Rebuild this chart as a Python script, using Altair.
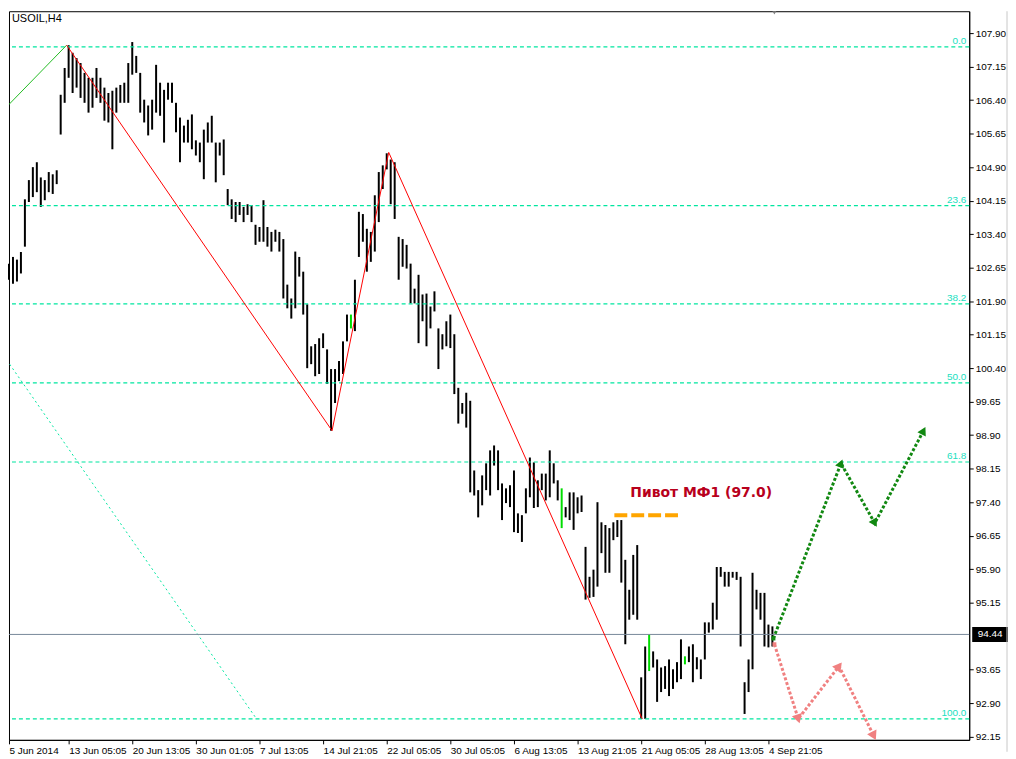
import math
import altair as alt
import pandas as pd

# ---------------- data ----------------
symbol_label = "USOIL,H4"

# H4 bars (every second bar), high / low prices, left to right
bar_high = [
    102.74, 102.89, 102.83, 103.00, 104.18, 104.61, 104.90, 105.01, 104.67, 104.61,
    104.79, 104.74, 104.83, 106.52, 107.12, 107.63, 107.46, 107.34, 107.23, 107.01,
    106.90, 106.90, 107.12, 106.90, 106.68, 106.56, 106.61, 106.68, 106.74, 106.79,
    107.23, 107.70, 107.39, 107.01, 106.41, 106.28, 106.41, 107.19, 106.79, 106.63,
    106.79, 106.79, 106.34, 106.01, 105.83, 105.96, 106.08, 105.50, 105.45, 105.74,
    105.90, 106.05, 105.45, 105.45, 105.52, 104.41, 104.18, 104.12, 104.12, 104.01,
    104.07, 104.05, 103.61, 103.56, 104.16, 103.56, 103.45, 103.50, 103.45, 103.29,
    102.27, 101.96, 103.01, 102.89, 102.56, 101.83, 100.89, 100.94, 101.07, 101.18,
    100.82, 100.38, 100.38, 100.56, 101.00, 101.60, 101.60, 102.38, 103.90, 103.85,
    103.52, 103.45, 104.27, 104.79, 104.94, 105.21, 105.07, 105.01, 103.34, 103.29,
    103.16, 102.74, 102.18, 102.49, 102.05, 102.07, 101.78, 102.12, 101.29, 101.16,
    101.45, 101.60, 101.16, 99.96, 99.62, 99.85, 99.67, 98.11, 97.67, 98.00,
    98.27, 98.56, 98.67, 98.56, 97.82, 97.71, 97.78, 98.11, 97.15, 97.11,
    97.71, 98.40, 98.29, 97.89, 98.04, 98.04, 98.56, 98.27, 97.89, 97.71,
    97.29, 97.62, 97.62, 97.51, 97.55, 96.40, 95.73, 95.89, 97.40, 96.95,
    96.89, 96.82, 96.95, 97.00, 97.00, 96.11, 95.44, 96.22, 96.44, 93.48,
    94.17, 94.44, 94.06, 93.88, 93.70, 93.73, 93.88, 93.66, 93.82, 94.33,
    93.95, 94.17, 94.22, 93.93, 93.88, 94.71, 94.71, 95.15, 95.95, 95.95,
    95.84, 95.84, 95.84, 95.84, 95.73, 93.37, 93.88, 95.82, 95.44, 95.37,
    95.37, 94.66, 94.62,
]
bar_low = [
    102.38, 102.29, 102.34, 102.52, 103.12, 104.12, 104.23, 104.34, 104.01, 104.16,
    104.34, 104.30, 104.52, 105.63, 106.34, 106.90, 106.56, 106.68, 106.45, 106.34,
    106.12, 106.23, 106.45, 106.34, 105.94, 105.90, 105.30, 106.12, 106.34, 106.34,
    106.34, 106.97, 107.01, 106.12, 105.90, 105.61, 105.74, 106.12, 106.05, 105.45,
    106.41, 106.34, 105.68, 105.01, 105.45, 105.45, 105.30, 105.16, 105.01, 104.63,
    105.45, 105.45, 104.56, 105.16, 104.72, 104.05, 103.74, 103.67, 103.83, 103.67,
    103.83, 103.67, 103.16, 103.23, 103.23, 103.12, 103.01, 103.23, 103.01, 101.96,
    101.74, 101.51, 101.74, 102.45, 101.60, 100.40, 100.49, 100.22, 100.27, 100.85,
    100.05, 99.00, 99.62, 100.11, 100.27, 101.00, 101.29, 101.23, 102.89, 103.23,
    102.56, 102.78, 103.01, 103.67, 104.41, 104.85, 104.07, 103.74, 102.38, 102.67,
    102.63, 101.85, 101.85, 100.96, 101.45, 100.89, 101.29, 101.67, 100.38, 100.82,
    100.89, 100.85, 99.82, 99.16, 99.38, 99.07, 97.62, 97.55, 97.06, 97.33,
    97.67, 97.55, 98.22, 97.67, 97.00, 97.38, 97.29, 96.73, 96.71, 96.51,
    97.15, 97.51, 97.27, 97.29, 97.67, 97.44, 97.51, 97.82, 97.44, 96.82,
    97.06, 97.00, 96.78, 97.15, 97.18, 95.22, 95.26, 95.28, 95.51, 96.26,
    95.82, 95.82, 96.55, 96.62, 95.60, 94.22, 94.77, 94.88, 94.77, 92.55,
    92.55, 93.62, 93.70, 92.93, 93.15, 93.22, 93.06, 93.22, 93.37, 93.44,
    93.77, 93.82, 93.37, 93.66, 93.44, 93.88, 94.48, 94.55, 94.77, 95.73,
    95.51, 95.51, 95.71, 95.66, 94.17, 92.66, 93.15, 93.66, 95.00, 94.77,
    94.17, 94.15, 94.17,
]
green_bar_idx = [174, 280, 324, 342]

# 94.40 is hidden behind the current-price box in the reference
price_ticks = [92.15, 92.90, 93.65, 95.15, 95.90, 96.65, 97.40, 98.15, 98.90,
               99.65, 100.40, 101.15, 101.90, 102.65, 103.40, 104.15, 104.90, 105.65,
               106.40, 107.15, 107.90]
time_labels = ["5 Jun 2014", "13 Jun 05:05", "20 Jun 13:05", "30 Jun 01:05", "7 Jul 13:05",
               "14 Jul 21:05", "22 Jul 05:05", "30 Jul 05:05", "6 Aug 13:05",
               "13 Aug 21:05", "21 Aug 05:05", "28 Aug 13:05", "4 Sep 21:05"]
time_label_idx = [2, 32, 64, 96, 128, 160, 192, 224, 256, 288, 320, 352, 384]

fib_names = ["0.0", "23.6", "38.2", "50.0", "61.8", "100.0"]
fib_prices = [107.59, 104.04, 101.84, 100.07, 98.30, 92.55]
fib_label_idx = 483.5

zig_green_idx = [-0.5, 31]
zig_green_price = [106.19, 107.63]
zig_red_idx = [31, 164.5, 193, 320.5]
zig_red_price = [107.63, 99.00, 105.23, 92.55]
fan_idx = [-0.5, 126.5]
fan_price = [100.67, 92.55]

current_price = 94.44
current_label = "94.44"

pivot_idx = [306.5, 339.5]
pivot_price = 97.11
pivot_label = "Пивот МФ1 (97.0)"
pivot_label_idx = 314.5
pivot_label_price = 97.60

up_idx = [386.5, 420.5, 437.5, 462]
up_price = [94.35, 98.27, 96.93, 99.00]
down_idx = [387, 399, 419.5, 437]
down_price = [94.22, 92.55, 93.73, 92.17]

shift_marker_idx = 387

# ---------------- chart ----------------
W, H = 966, 733
X_DOMAIN = [2, 485]
Y_DOMAIN = [92.08, 108.39]
xs = alt.Scale(domain=X_DOMAIN, nice=False, zero=False)
ys = alt.Scale(domain=Y_DOMAIN, nice=False, zero=False)
PX_X = W / (X_DOMAIN[1] - X_DOMAIN[0])
PX_Y = H / (Y_DOMAIN[1] - Y_DOMAIN[0])

FIB_COLOR = "#00e6a0"
FIB_TEXT = "#20e0c0"
FONT = "Liberation Sans"

label_expr = "[" + ",".join("'%s'" % t for t in time_labels) + "][round(datum.value/32)]"

X_AXIS = alt.Axis(
    values=time_label_idx, labelExpr=label_expr, title=None, grid=False,
    labelAlign="left", labelFlush=False, labelOverlap=False, tickSize=4,
    labelPadding=2, labelFont=FONT, labelFontSize=10, labelColor="#000",
    domainColor="#000", tickColor="#000")
Y_AXIS = alt.Axis(
    orient="right", values=price_ticks, format=".2f", title=None, grid=False,
    tickSize=4, labelPadding=2, labelFont=FONT, labelFontSize=10, labelColor="#000",
    labelFlush=False, labelOverlap=False, domainColor="#000", tickColor="#000")


def X(f):
    return alt.X(f, scale=xs, axis=X_AXIS)


def Y(f):
    return alt.Y(f, scale=ys, axis=Y_AXIS)


bar_index = [2 + 2 * i for i in range(len(bar_high))]
bars_df = pd.DataFrame({
    "i": bar_index, "high": bar_high, "low": bar_low,
    "col": ["#00dd00" if i in green_bar_idx else "#000000" for i in bar_index],
})

bars = alt.Chart(bars_df).mark_rule(strokeWidth=2).encode(
    x=X("i:Q"), y=Y("high:Q"), y2="low:Q",
    color=alt.Color("col:N", scale=None),
)

fib_df = pd.DataFrame({"name": fib_names, "p": fib_prices, "i": fib_label_idx})
fib_lines = alt.Chart(fib_df).mark_rule(color=FIB_COLOR, strokeWidth=1.2, strokeDash=[4, 3]).encode(
    y=Y("p:Q"))
fib_text = alt.Chart(fib_df).mark_text(
    align="right", baseline="bottom", dy=-1, font=FONT, fontSize=10, color=FIB_TEXT).encode(
    x=X("i:Q"), y=Y("p:Q"), text="name:N")

fan = alt.Chart(pd.DataFrame({"i": fan_idx, "p": fan_price})).mark_line(
    color=FIB_COLOR, strokeWidth=1, strokeDash=[2, 3], clip=True).encode(
    x=X("i:Q"), y=Y("p:Q"))

cur_line = alt.Chart(pd.DataFrame({"p": [current_price]})).mark_rule(
    color="#778899", strokeWidth=1).encode(y=Y("p:Q"))

zg = alt.Chart(pd.DataFrame({"i": zig_green_idx, "p": zig_green_price, "o": [0, 1]})).mark_line(
    color="#22bb22", strokeWidth=1, clip=True).encode(
    x=X("i:Q"), y=Y("p:Q"), order="o:Q")
zr = alt.Chart(pd.DataFrame({"i": zig_red_idx, "p": zig_red_price,
                             "o": list(range(len(zig_red_idx)))})).mark_line(
    color="#ff0000", strokeWidth=1).encode(
    x=X("i:Q"), y=Y("p:Q"), order="o:Q")

pivot_line = alt.Chart(pd.DataFrame({"i": [pivot_idx[0]], "i2": [pivot_idx[1]], "p": [pivot_price]})).mark_rule(
    color="#ffa500", strokeWidth=4, strokeDash=[13, 4]).encode(
    x=X("i:Q"), x2="i2:Q", y=Y("p:Q"))
pivot_text = alt.Chart(pd.DataFrame({"i": [pivot_label_idx], "p": [pivot_label_price], "t": [pivot_label]})).mark_text(
    align="left", baseline="middle", font="DejaVu Sans", fontSize=14, fontWeight="bold",
    color="#b8001c").encode(x=X("i:Q"), y=Y("p:Q"), text="t:N")


def path_layers(idxs, prices, color, size):
    df = pd.DataFrame({"i": idxs, "p": prices, "o": list(range(len(idxs)))})
    line = alt.Chart(df).mark_line(color=color, strokeWidth=3, strokeDash=[3, 2]).encode(
        x=X("i:Q"), y=Y("p:Q"), order="o:Q")
    rows = []
    for k in range(1, len(idxs)):
        dx = (idxs[k] - idxs[k - 1]) * PX_X
        dy = -(prices[k] - prices[k - 1]) * PX_Y
        ang = math.degrees(math.atan2(dx, -dy)) % 360
        rows.append({"i": idxs[k], "p": prices[k], "a": ang})
    heads = alt.Chart(pd.DataFrame(rows)).mark_point(
        shape="triangle-up", filled=True, color=color, size=size, opacity=1).encode(
        x=X("i:Q"), y=Y("p:Q"), angle=alt.Angle("a:Q", scale=None))
    start = alt.Chart(pd.DataFrame({"i": [idxs[0]], "p": [prices[0]]})).mark_point(
        shape="square", filled=True, color=color, size=16, opacity=1).encode(
        x=X("i:Q"), y=Y("p:Q"))
    return [line, heads, start]


up_layers = path_layers(up_idx, up_price, "#118811", 90)
down_layers = path_layers(down_idx, down_price, "#f08080", 110)

price_box = alt.Chart(pd.DataFrame({"p": [current_price], "t": [current_label]})).mark_tick(
    orient="horizontal", size=36, thickness=15, color="#000000", opacity=1).encode(
    x=alt.value(987), y=Y("p:Q"))
price_text = alt.Chart(pd.DataFrame({"p": [current_price], "t": [current_label]})).mark_text(
    align="center", baseline="middle", font=FONT, fontSize=10, color="#ffffff").encode(
    x=alt.value(987), y=Y("p:Q"), text="t:N")

sym = alt.Chart(pd.DataFrame({"t": [symbol_label]})).mark_text(
    align="left", baseline="top", font=FONT, fontSize=11, color="#000").encode(
    x=alt.value(3), y=alt.value(2), text="t:N")

shift_mark = alt.Chart(pd.DataFrame({"i": [shift_marker_idx]})).mark_point(
    shape="triangle-down", filled=True, color="#808080", size=60, clip=True, opacity=1).encode(
    x=X("i:Q"), y=alt.value(0))

edge = alt.Chart(pd.DataFrame({"a": [0]})).mark_rule(color="#c8c8c8", strokeWidth=1).encode(
    x=alt.value(1004), y=alt.value(0), y2=alt.value(745))

chart = alt.layer(
    bars, fib_lines, fib_text, fan, cur_line, zg, zr, pivot_line, pivot_text,
    *up_layers, *down_layers, price_box, price_text, sym, shift_mark, edge,
).properties(width=W, height=H, padding=0, background="#ffffff").configure_view(
    stroke="#000000", strokeWidth=1)

chart.save("out.html", embed_options={"renderer": "svg", "actions": False})
